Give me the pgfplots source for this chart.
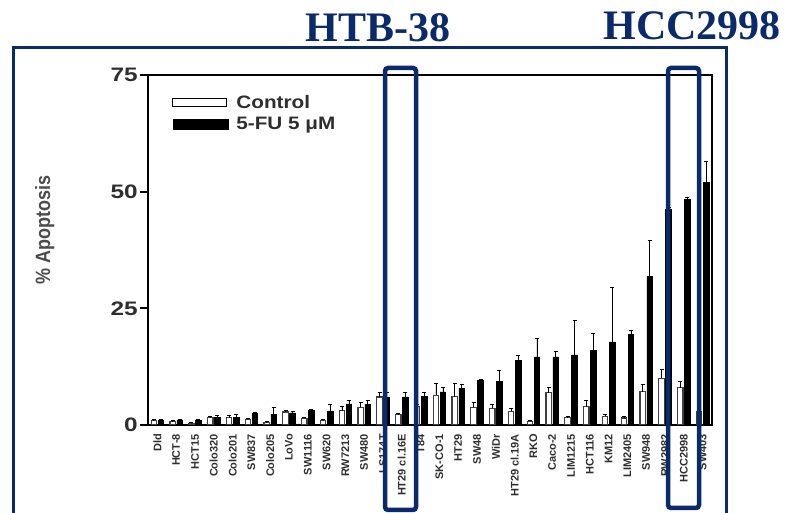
\documentclass[border=0pt]{standalone}
\usepackage{pgfplots}
\usepackage{pgfplotstable}
\pgfplotsset{compat=1.18}
\usepackage{fontspec}
\setmainfont{Liberation Sans}
\newfontfamily\titlefont{Liberation Serif}
\definecolor{navy}{HTML}{0B2A6C}
\definecolor{labgray}{HTML}{2E2E2E}

\pgfplotstableread{
i c ce f fe
0 0.9 0.2 0.9 0.2
1 0.7 0.2 1.0 0.2
2 0.4 0.2 1.0 0.2
3 1.6 0.3 1.7 0.3
4 1.6 0.5 1.6 0.6
5 1.2 0.3 2.4 0.3
6 0.5 0.2 2.3 1.4
7 2.8 0.3 2.6 0.4
8 1.4 0.3 3.1 0.3
9 1.0 0.3 3.0 1.5
10 3.1 0.8 4.5 0.8
11 3.8 1.0 4.4 0.9
12 6.0 1.0 6.0 1.0
13 2.2 0.2 6.0 1.0
14 4.0 0.5 6.1 0.8
15 6.4 2.6 7.1 1.0
16 6.1 2.9 7.9 0.9
17 3.8 1.0 9.5 0.2
18 3.6 0.8 9.4 2.3
19 2.9 0.7 13.8 1.1
20 0.8 0.2 14.6 3.9
21 6.9 1.1 14.6 1.2
22 1.6 0.3 15.0 7.4
23 3.9 1.3 15.9 3.8
24 1.9 0.3 17.8 11.6
25 1.5 0.3 19.4 0.9
26 7.1 1.5 31.9 7.6
27 10.0 1.9 46.2 0.5
28 8.0 1.3 48.4 0.3
29 2.8 0.5 52.0 4.5
}\datatable

\begin{document}
\begin{tikzpicture}[x=1pt,y=1pt]
\path[use as bounding box] (0,0) rectangle (787,513);
\begin{axis}[
  at={(148pt,88pt)}, anchor=south west,
  scale only axis, width=564pt, height=350pt,
  xmin=-0.5, xmax=29.5, ymin=0, ymax=75,
  ybar=1.5pt, bar width=5.5pt,
  xtick=data,
  xticklabels={Dld, HCT-8, HCT15, Colo320, Colo201, SW837, Colo205, LoVo, SW1116, SW620, RW7213, SW480, LS174T, HT29 cl.16E, T84, SK-CO-1, HT29, SW48, WiDr, HT29 cl.19A, RKO, Caco-2, LIM1215, HCT116, KM12, LIM2405, SW948, RW2982, HCC2998, SW403},
  x tick label style={rotate=90, anchor=east, font=\fontsize{11}{12}\selectfont\bfseries, text=labgray, inner sep=1pt},
  major x tick style={draw=none},
  ytick={0,25,50,75},
  yticklabels={\scalebox{1.25}[1]{0},\scalebox{1.25}[1]{25},\scalebox{1.25}[1]{50},\scalebox{1.25}[1]{75}},
  y tick label style={font=\fontsize{19.5}{20}\selectfont\bfseries, text=labgray, inner sep=2pt},
  ytick pos=left, tick align=outside, major tick length=8pt,
  y tick style={line width=2pt, black},
  axis line style={line width=2pt},
  ylabel={\scalebox{1}[1.15]{\% Apoptosis}},
  ylabel style={at={(axis description cs:-0.183,0.557)}, anchor=center, font=\fontsize{18}{20}\selectfont\bfseries, text=black!70},
  legend style={at={(axis description cs:0.0426,0.948)}, anchor=north west, draw=none, fill=none, font=\fontsize{18}{20}\selectfont\bfseries, text=labgray, row sep=3pt, inner sep=0pt, nodes={inner sep=2pt}, cells={anchor=west}},
]
\addplot[fill=white, draw=black!75, line width=1.2pt,
  legend image code/.code={\draw[fill=white, draw=black, line width=1.2pt] (0pt,-4pt) rectangle (54pt,4pt); \path (61pt,0pt);},
  error bars/.cd, y dir=plus, y explicit,
  error bar style={line width=0.8pt, black},
  error mark options={rotate=90, mark size=2pt, line width=0.8pt, black}]
  table[x=i, y=c, y error=ce] {\datatable};
\addlegendentry{\scalebox{1.15}[1]{Control}}
\addplot[fill=black, draw=black, line width=0.6pt,
  legend image code/.code={\fill[black] (0pt,-5pt) rectangle (55pt,5pt); \path (61pt,0pt);},
  error bars/.cd, y dir=plus, y explicit,
  error bar style={line width=0.8pt, black},
  error mark options={rotate=90, mark size=2pt, line width=0.8pt, black}]
  table[x=i, y=f, y error=fe] {\datatable};
\addlegendentry{\scalebox{1.15}[1]{5-FU 5 μM}}
\end{axis}
\draw[navy, line width=3pt] (13,-10) -- (13,465) -- (726,465) -- (726,-10);
\draw[navy, line width=4.5pt, rounded corners=3pt] (385,3) rectangle (416,445);
\draw[navy, line width=4.5pt, rounded corners=3pt] (668,5) rectangle (699,445);
\node[navy, font=\titlefont\bfseries\fontsize{42}{42}\selectfont, anchor=base] at (378,471) {HTB-38};
\node[navy, font=\titlefont\bfseries\fontsize{42}{42}\selectfont, anchor=base] at (692,473) {HCC2998};
\end{tikzpicture}
\end{document}
